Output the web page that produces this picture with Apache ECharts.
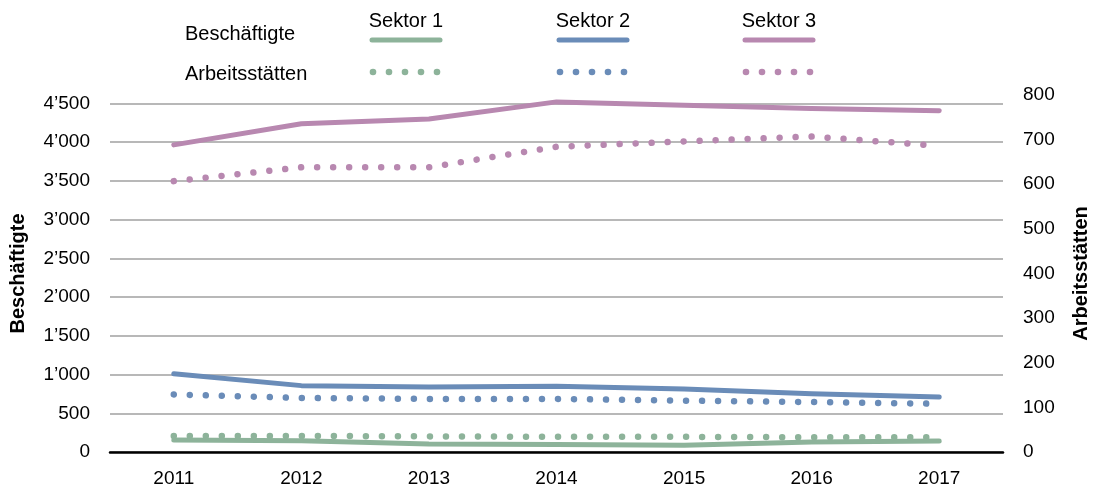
<!DOCTYPE html>
<html><head><meta charset="utf-8">
<script src="https://cdn.jsdelivr.net/npm/echarts@6/dist/echarts.min.js"></script>
<style>html,body{margin:0;padding:0;background:#fff}#c{width:1094px;height:489px}</style>
</head><body><div id="c"></div>
<script>
const years = ['2011','2012','2013','2014','2015','2016','2017'];
const sectors = ['Sektor 1','Sektor 2','Sektor 3'];
const empS1 = [155, 146, 103, 97, 86, 129, 142];
const empS2 = [1010, 857, 839, 848, 813, 752, 709];
const empS3 = [3966, 4239, 4299, 4521, 4479, 4436, 4406];
const estS1 = [36, 36, 35, 34, 34, 33, 33];
const estS2 = [129, 121, 119, 119, 115, 112, 108];
const estS3 = [607, 638, 638, 684, 696, 707, 686];
const rowLabels = ['Beschäftigte', 'Arbeitsstätten'];

const colors = ['#8db39a', '#6a8cb8', '#b888b0'];
const FONT = "'Liberation Sans', Arial, sans-serif";
const fmt = v => { const s = String(Math.round(v)); return s.length > 3 ? s.slice(0, -3) + '\u2019' + s.slice(-3) : s; };

const chart = echarts.init(document.getElementById('c'), null, {renderer: 'canvas'});

const emp = [empS1, empS2, empS3];
const est = [estS1, estS2, estS3];
const series = [];
emp.forEach((d, i) => series.push({
  name: rowLabels[0] + ' ' + sectors[i], type: 'line', yAxisIndex: 0, data: d,
  symbol: 'none', lineStyle: {color: colors[i], width: 5, cap: 'round', join: 'round'}, z: 2
}));
est.forEach((d, i) => series.push({
  name: rowLabels[1] + ' ' + sectors[i], type: 'line', yAxisIndex: 1, data: d,
  symbol: 'none', lineStyle: {color: colors[i], width: 6.5, type: [0.01, 16], cap: 'round'}, z: 3
}));

const graphic = [
  {type: 'text', left: 185, top: 24, style: {text: rowLabels[0], font: '20px ' + FONT, fill: '#000'}},
  {type: 'text', left: 185, top: 64, style: {text: rowLabels[1], font: '20px ' + FONT, fill: '#000'}}
];
const legX = [370, 557, 743];
sectors.forEach((s, i) => {
  const x0 = legX[i];
  graphic.push({type: 'text', x: x0 + 36, y: 21, style: {text: s, font: '20px ' + FONT, fill: '#000', align: 'center', verticalAlign: 'middle'}});
  graphic.push({type: 'line', shape: {x1: x0 + 2, y1: 40, x2: x0 + 70, y2: 40}, style: {stroke: colors[i], lineWidth: 5, lineCap: 'round'}});
  for (let k = 0; k < 5; k++) {
    graphic.push({type: 'circle', shape: {cx: x0 + 3 + k * 16, cy: 72, r: 3.3}, style: {fill: colors[i]}});
  }
});

chart.setOption({
  animation: false,
  backgroundColor: '#fff',
  textStyle: {fontFamily: FONT},
  grid: {left: 110, right: 91, top: 95, bottom: 37, containLabel: false, outerBoundsMode: 'none'},
  xAxis: {
    type: 'category', data: years, boundaryGap: true,
    axisLine: {show: true, lineStyle: {color: '#000', width: 2.5}},
    axisTick: {show: false},
    axisLabel: {color: '#000', fontSize: 19, fontFamily: FONT, margin: 17}
  },
  yAxis: [
    {
      type: 'value', min: 0, max: 4610, interval: 500,
      name: rowLabels[0], nameLocation: 'middle', nameRotate: 90, nameGap: 82,
      nameTextStyle: {color: '#000', fontSize: 20, fontWeight: 'bold', fontFamily: FONT},
      axisLine: {show: false}, axisTick: {show: false},
      axisLabel: {color: '#000', fontSize: 19, fontFamily: FONT, margin: 20, formatter: fmt, showMaxLabel: false},
      splitLine: {show: true, showMaxLine: false, lineStyle: {color: '#a0a0a0', width: 1.5}}
    },
    {
      type: 'value', min: 0, max: 800, interval: 100, position: 'right',
      name: rowLabels[1], nameLocation: 'middle', nameRotate: 90, nameGap: 68,
      nameTextStyle: {color: '#000', fontSize: 20, fontWeight: 'bold', fontFamily: FONT},
      axisLine: {show: false}, axisTick: {show: false},
      axisLabel: {color: '#000', fontSize: 19, fontFamily: FONT, margin: 20},
      splitLine: {show: false}
    }
  ],
  graphic: graphic,
  series: series
});
</script></body></html>
